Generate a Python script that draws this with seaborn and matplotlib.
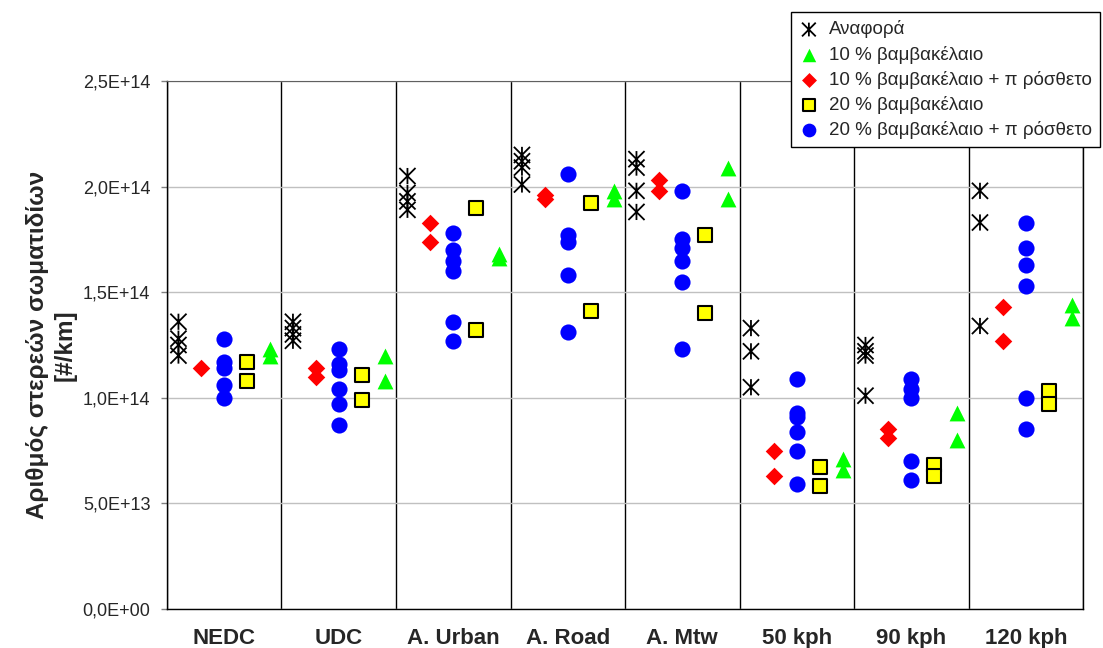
import matplotlib
matplotlib.use("Agg")
import matplotlib.pyplot as plt
from matplotlib.path import Path
from matplotlib.ticker import FixedLocator, FuncFormatter, MultipleLocator
import numpy as np
import pandas as pd
import seaborn as sns

categories = ["NEDC", "UDC", "A. Urban", "A. Road", "A. Mtw", "50 kph", "90 kph", "120 kph"]

# particle number per cycle, in units of 1E+14 #/km
reference = [
    [1.36, 1.28, 1.25, 1.20],
    [1.36, 1.33, 1.30, 1.27],
    [2.05, 1.97, 1.93, 1.89],
    [2.15, 2.12, 2.09, 2.01],
    [2.13, 2.09, 1.98, 1.88],
    [1.33, 1.22, 1.05],
    [1.25, 1.22, 1.20, 1.01],
    [1.98, 1.83, 1.34],
]
cotton10 = [
    [1.23, 1.20],
    [1.20, 1.08],
    [1.68, 1.66],
    [1.98, 1.94],
    [2.09, 1.94],
    [0.71, 0.66],
    [0.93, 0.80],
    [1.44, 1.38],
]
cotton10_add = [
    [1.14],
    [1.14, 1.10],
    [1.83, 1.74],
    [1.96, 1.94],
    [2.03, 1.98],
    [0.75, 0.63],
    [0.85, 0.81],
    [1.43, 1.27],
]
cotton20 = [
    [1.17, 1.08],
    [1.11, 0.99],
    [1.90, 1.32],
    [1.92, 1.41],
    [1.77, 1.40],
    [0.67, 0.58],
    [0.68, 0.63],
    [1.03, 0.97],
]
cotton20_add = [
    [1.28, 1.17, 1.14, 1.06, 1.00],
    [1.23, 1.16, 1.13, 1.04, 0.97, 0.87],
    [1.78, 1.70, 1.65, 1.60, 1.36, 1.27],
    [2.06, 1.77, 1.74, 1.58, 1.31],
    [1.98, 1.75, 1.71, 1.65, 1.55, 1.23],
    [1.09, 0.93, 0.91, 0.84, 0.75, 0.59],
    [1.09, 1.04, 1.00, 0.70, 0.61],
    [1.83, 1.71, 1.63, 1.53, 1.00, 0.85],
]

series_labels = [
    "Αναφορά",
    "10 % βαμβακέλαιο",
    "10 % βαμβακέλαιο + π ρόσθετο",
    "20 % βαμβακέλαιο",
    "20 % βαμβακέλαιο + π ρόσθετο",
]
series_values = [reference, cotton10, cotton10_add, cotton20, cotton20_add]

# asterisk like the excel one: an X with a vertical bar
star = Path(
    [(-1, -1), (1, 1), (-1, 1), (1, -1), (0, -1), (0, 1)],
    [Path.MOVETO, Path.LINETO, Path.MOVETO, Path.LINETO, Path.MOVETO, Path.LINETO],
)
styles = {
    series_labels[0]: dict(marker=star, s=135, facecolor="none", edgecolor="black", linewidth=1.3, offset=-0.4),
    series_labels[1]: dict(marker="^", s=130, facecolor="#00ff00", edgecolor="#00ff00", linewidth=0, offset=0.4),
    series_labels[2]: dict(marker="D", s=80, facecolor="#ff0000", edgecolor="#ff0000", linewidth=0, offset=-0.2),
    series_labels[3]: dict(marker="s", s=100, facecolor="#ffff00", edgecolor="black", linewidth=1.5, offset=0.2),
    series_labels[4]: dict(marker="o", s=135, facecolor="#0000ff", edgecolor="#0000ff", linewidth=0, offset=0.0),
}

rows = []
for label, values in zip(series_labels, series_values):
    for ci, cat in enumerate(categories):
        for v in values[ci]:
            rows.append({"series": label, "category": cat, "cat_idx": ci, "value": v * 1e14})
df = pd.DataFrame(rows)
df["xpos"] = df["cat_idx"] + df["series"].map({k: st["offset"] for k, st in styles.items()})

sns.set_style("white")
plt.rcParams["font.family"] = ["Liberation Sans", "DejaVu Sans"]

fig, ax = plt.subplots(figsize=(11.03, 6.48), dpi=100)
fig.subplots_adjust(left=0.1514, right=0.9819, bottom=0.0602, top=0.875)

for label in series_labels:
    st = {k: v for k, v in styles[label].items() if k != "offset"}
    sns.scatterplot(data=df[df["series"] == label], x="xpos", y="value", ax=ax,
                    label=label, legend=False, zorder=3, **st)

ax.set_xlim(-0.5, 7.5)
ax.set_ylim(0, 2.5e14)
ax.set_xticks(range(len(categories)))
ax.set_xticklabels(categories, fontsize=16, fontweight="bold")
ax.xaxis.set_minor_locator(FixedLocator(np.arange(-0.5, len(categories), 1)))
ax.tick_params(axis="x", which="major", length=0, pad=14)
ax.tick_params(axis="x", which="minor", length=10, width=1, color="black", direction="out")
ax.yaxis.set_major_locator(MultipleLocator(5e13))
ax.yaxis.set_major_formatter(FuncFormatter(lambda v, p: f"{v:.1E}".replace(".", ",")))
ax.tick_params(axis="y", length=4, width=1, color="#808080", labelsize=13, pad=8, left=True)
ax.grid(axis="x", which="minor", color="black", linewidth=1)
ax.grid(axis="y", which="major", color="#c0c0c0", linewidth=1)
ax.set_axisbelow(True)
for side in ["left", "bottom", "right"]:
    ax.spines[side].set_color("black")
    ax.spines[side].set_linewidth(1)
ax.spines["top"].set_color("#606060")

ax.set_xlabel("")
ax.set_ylabel("Αριθμός στερεών σωματιδίων\n[#/km]", fontsize=17.5, fontweight="bold",
              labelpad=4, linespacing=1.27)

handles, labels = ax.get_legend_handles_labels()
leg = fig.legend(handles, labels, loc="upper right", bbox_to_anchor=(1100 / 1103, 1 - 12 / 648),
                 bbox_transform=fig.transFigure, borderaxespad=0, fontsize=13.5, frameon=True,
                 fancybox=False, framealpha=1, edgecolor="black", handletextpad=0.55,
                 labelspacing=0.38, borderpad=0.45, markerscale=0.85, handlelength=1.0)
leg.get_frame().set_linewidth(1)

fig.savefig("out.png", dpi=100)
